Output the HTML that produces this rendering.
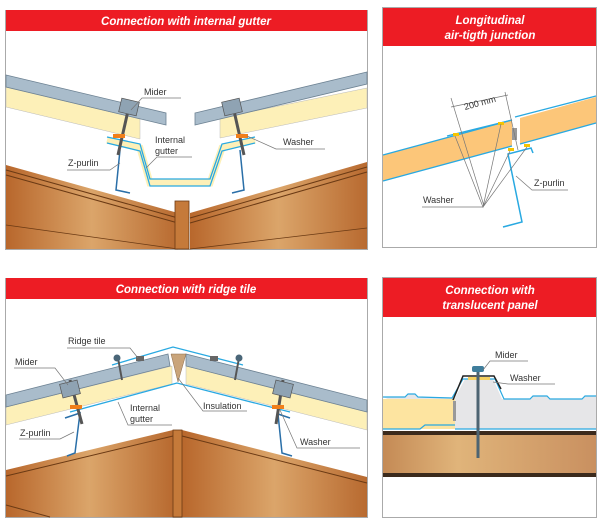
<!DOCTYPE html>
<html><head><meta charset="utf-8"><style>
html,body{margin:0;padding:0;background:#fff;}
svg{display:block;}
.h{font-family:"Liberation Sans",sans-serif;font-weight:bold;font-style:italic;fill:#fff;font-size:11.5px;}
.l{font-family:"Liberation Sans",sans-serif;font-size:9px;fill:#333;}
.ln{stroke:#777;stroke-width:0.7;fill:none;}
</style></head><body>
<svg width="600" height="524" viewBox="0 0 600 524" xmlns="http://www.w3.org/2000/svg">
<defs>
<linearGradient id="br" x1="0" x2="1" y1="0" y2="0">
<stop offset="0" stop-color="#b8672c"/><stop offset="0.5" stop-color="#dba56a"/><stop offset="1" stop-color="#b86a30"/>
</linearGradient>
<linearGradient id="br2" x1="0" x2="1"><stop offset="0" stop-color="#c48a55"/><stop offset="0.35" stop-color="#e0b47a"/><stop offset="1" stop-color="#c99060"/></linearGradient>
</defs>

<!-- Panel 1 -->
<rect x="5.5" y="10.5" width="362" height="239" fill="#fff" stroke="#aaa"/>
<rect x="6" y="10" width="361" height="21" fill="#ed1c24"/>
<text class="h" x="186" y="25" text-anchor="middle">Connection with internal gutter</text>
<!-- beams -->
<polygon points="6,165 178,213 178,249 6,249" fill="url(#br)"/>
<polygon points="190,213 367,162 367,249 190,249" fill="url(#br)"/>
<polyline points="6,170 178,218" stroke="#6b3a14" stroke-width="1" fill="none"/>
<polyline points="6,175 178,223" stroke="#6b3a14" stroke-width="1" fill="none"/>
<polyline points="190,218 367,167" stroke="#6b3a14" stroke-width="1" fill="none"/>
<polyline points="190,223 367,172" stroke="#6b3a14" stroke-width="1" fill="none"/>
<polyline points="6,225 178,249" stroke="#6b3a14" stroke-width="0.8" fill="none"/>
<polyline points="190,249 367,228" stroke="#6b3a14" stroke-width="0.8" fill="none"/>
<rect x="175" y="201" width="14" height="48" fill="#c57a3a" stroke="#6b3a14" stroke-width="0.8"/>
<!-- panels -->
<polygon points="6,87 140,119 140,139 6,107" fill="#fdf0b8" stroke="#bbb" stroke-width="0.5"/>
<polygon points="6,75 166,113 166,125 6,87" fill="#a9bccb" stroke="#6d8293" stroke-width="0.8"/>
<polygon points="220,118 367,88 367,108 220,138" fill="#fdf0b8" stroke="#bbb" stroke-width="0.5"/>
<polygon points="195,113 367,72 367,84 195,125" fill="#a9bccb" stroke="#6d8293" stroke-width="0.8"/>
<!-- gutter -->
<polyline points="107,140 140,148 150,183 210,183 222,148 255,140" stroke="#fdf0b8" stroke-width="7" fill="none"/>
<polyline points="107,137 140,144 150,179 210,179 222,144 255,137" stroke="#29a9e1" stroke-width="1.3" fill="none"/>
<polyline points="107,143 140,151 150,186 210,186 222,151 255,143" stroke="#29a9e1" stroke-width="1.3" fill="none"/>
<!-- purlins -->
<polyline points="120,150 116,190 130,193" stroke="#2a6fa8" stroke-width="1.5" fill="none"/>
<polyline points="240,150 244,190 232,193" stroke="#2a6fa8" stroke-width="1.5" fill="none"/>
<!-- screws -->
<line x1="130" y1="102" x2="118" y2="155" stroke="#555" stroke-width="3"/>
<rect x="120" y="100" width="18" height="14" fill="#8fa3b3" stroke="#555" stroke-width="0.7" transform="rotate(13 129 107)"/>
<rect x="113" y="134" width="12" height="4" fill="#f07f1a"/>
<line x1="232" y1="102" x2="244" y2="155" stroke="#555" stroke-width="3"/>
<rect x="223" y="100" width="18" height="14" fill="#8fa3b3" stroke="#555" stroke-width="0.7" transform="rotate(-13 232 107)"/>
<rect x="236" y="134" width="12" height="4" fill="#f07f1a"/>
<!-- labels -->
<text class="l" x="144" y="95">Mider</text><polyline class="ln" points="131,110 142,98 181,98"/>
<text class="l" x="155" y="143">Internal</text><text class="l" x="155" y="154">gutter</text>
<polyline class="ln" points="146,168 157,157 192,157"/>
<text class="l" x="283" y="145">Washer</text><polyline class="ln" points="247,136 276,149 325,149"/>
<text class="l" x="68" y="166">Z-purlin</text><polyline class="ln" points="67,170 110,170 120,163"/>

<!-- Panel 2 -->
<rect x="382.5" y="7.5" width="214" height="240" fill="#fff" stroke="#aaa"/>
<rect x="383" y="8" width="213" height="38" fill="#ed1c24"/>
<text class="h" x="490" y="24" text-anchor="middle">Longitudinal</text>
<text class="h" x="490" y="39" text-anchor="middle">air-tigth junction</text>
<polygon points="383,155 512,120 512,146 383,181" fill="#fcc679"/>
<polygon points="520,118 596,97 596,123 520,144" fill="#fcc679"/>
<line x1="383" y1="155" x2="512" y2="120" stroke="#29a9e1" stroke-width="1.3"/>
<line x1="383" y1="181" x2="512" y2="146" stroke="#29a9e1" stroke-width="1.3"/>
<line x1="515" y1="117" x2="596" y2="96" stroke="#29a9e1" stroke-width="1.3"/>
<line x1="520" y1="144" x2="596" y2="123" stroke="#29a9e1" stroke-width="1.3"/>
<line x1="447" y1="136" x2="512" y2="120" stroke="#29a9e1" stroke-width="1.3"/>
<rect x="512" y="128" width="5" height="12" fill="#999"/>
<rect x="453" y="133" width="6" height="3" fill="#f5c400"/>
<rect x="498" y="122" width="6" height="3" fill="#f5c400"/>
<rect x="508" y="148" width="6" height="3" fill="#f5c400"/>
<rect x="524" y="144" width="6" height="3" fill="#f5c400"/>
<polyline points="533,153 531,148 508,154 522,222 503,227" stroke="#29a9e1" stroke-width="1.5" fill="none"/>
<line x1="451" y1="98" x2="484" y2="206" class="ln"/>
<line x1="505" y1="92" x2="518" y2="150" class="ln"/>
<line x1="451" y1="107" x2="508" y2="95" class="ln"/>
<text class="l" x="465" y="110" transform="rotate(-15 465 110)">200 mm</text>
<text class="l" x="423" y="203">Washer</text>
<polyline class="ln" points="422,207 483,207"/>
<polyline class="ln" points="483,207 455,136 483,207 501,124 483,207 510,151 483,207 527,147"/>
<text class="l" x="534" y="186">Z-purlin</text><polyline class="ln" points="516,176 532,190 568,190"/>

<!-- Panel 3 -->
<rect x="5.5" y="278.5" width="362" height="239" fill="#fff" stroke="#aaa"/>
<rect x="6" y="278" width="361" height="21" fill="#ed1c24"/>
<text class="h" x="186" y="293" text-anchor="middle">Connection with ridge tile</text>
<polygon points="6,470 173,430 173,517 6,517" fill="url(#br)"/>
<polygon points="182,430 367,477 367,517 182,517" fill="url(#br)"/>
<polyline points="6,476 173,436" stroke="#6b3a14" fill="none"/>
<polyline points="182,436 367,483" stroke="#6b3a14" fill="none"/>
<polyline points="6,505 50,517" stroke="#6b3a14" fill="none"/>
<rect x="173" y="430" width="9" height="87" fill="#c57a3a" stroke="#6b3a14" stroke-width="0.8"/>
<polygon points="6,407 172,366 172,384 6,425" fill="#fdf0b8" stroke="#bbb" stroke-width="0.5"/>
<polygon points="6,395 168,354 170,366 6,407" fill="#a9bccb" stroke="#6d8293" stroke-width="0.8"/>
<polygon points="186,366 367,412 367,430 186,384" fill="#fdf0b8" stroke="#bbb" stroke-width="0.5"/>
<polygon points="186,354 367,400 367,412 186,366" fill="#a9bccb" stroke="#6d8293" stroke-width="0.8"/>
<polygon points="171,354 186,354 178,382" fill="#c9a47a" stroke="#8a6a4a" stroke-width="0.5"/>
<polyline points="112,365 173,347 243,365" stroke="#29a9e1" stroke-width="1.3" fill="none"/>
<polyline points="70,412 177,383 290,412" stroke="#29a9e1" stroke-width="1.3" fill="none"/>
<rect x="136" y="356" width="8" height="5" fill="#666"/><rect x="210" y="356" width="8" height="5" fill="#666"/>
<line x1="118" y1="358" x2="122" y2="380" stroke="#555" stroke-width="2"/>
<circle cx="117" cy="358" r="3.5" fill="#4a6678"/>
<line x1="239" y1="358" x2="235" y2="380" stroke="#555" stroke-width="2"/>
<circle cx="239" cy="358" r="3.5" fill="#4a6678"/>
<polyline points="65,418 80,413 75,453 67,456" stroke="#2a6fa8" stroke-width="1.5" fill="none"/>
<polyline points="290,418 278,414 282,453 292,456" stroke="#2a6fa8" stroke-width="1.5" fill="none"/>
<line x1="70" y1="380" x2="82" y2="424" stroke="#555" stroke-width="3"/>
<rect x="61" y="382" width="18" height="14" fill="#8fa3b3" stroke="#555" stroke-width="0.7" transform="rotate(-14 70 389)"/>
<rect x="70" y="405" width="12" height="4" fill="#f07f1a"/>
<line x1="283" y1="380" x2="276" y2="424" stroke="#555" stroke-width="3"/>
<rect x="274" y="382" width="18" height="14" fill="#8fa3b3" stroke="#555" stroke-width="0.7" transform="rotate(14 283 389)"/>
<rect x="272" y="405" width="12" height="4" fill="#f07f1a"/>
<text class="l" x="68" y="344">Ridge tile</text><polyline class="ln" points="67,348 130,348 138,358"/>
<text class="l" x="15" y="365">Mider</text><polyline class="ln" points="14,368 55,368 68,385"/>
<text class="l" x="203" y="409">Insulation</text><polyline class="ln" points="178,378 203,411 247,411"/>
<text class="l" x="130" y="411">Internal</text><text class="l" x="130" y="422">gutter</text>
<polyline class="ln" points="118,402 128,425 172,425"/>
<text class="l" x="20" y="436">Z-purlin</text><polyline class="ln" points="19,439 60,439 74,432"/>
<text class="l" x="300" y="445">Washer</text><polyline class="ln" points="280,410 297,448 360,448"/>

<!-- Panel 4 -->
<rect x="382.5" y="277.5" width="214" height="240" fill="#fff" stroke="#aaa"/>
<rect x="383" y="278" width="213" height="39" fill="#ed1c24"/>
<text class="h" x="490" y="294" text-anchor="middle">Connection with</text>
<text class="h" x="490" y="309" text-anchor="middle">translucent panel</text>
<polygon points="383,397 405,397 408,394 415,394 418,397 455,398 465,379 493,379 502,399 530,399 533,396 547,396 550,399 582,399 585,396 596,396 596,429 455,429 455,428" fill="#e6e6e8"/>
<rect x="383" y="399" width="72" height="30" fill="#fde4a0"/>
<polyline points="383,397 405,397 408,394 415,394 418,397 452,398 463,379 495,379 504,399 530,399 533,396 547,396 550,399 582,399 585,396 596,396" stroke="#29a9e1" stroke-width="1.2" fill="none"/>
<polyline points="383,429 420,429 425,425 455,425" stroke="#29a9e1" stroke-width="1.2" fill="none"/>
<polyline points="455,429 596,429" stroke="#29a9e1" stroke-width="1.2" fill="none"/>
<rect x="453" y="401" width="3" height="20" fill="#999"/>
<polyline points="453,400 463,376 494,376 501,389" stroke="#222" stroke-width="1.5" fill="none"/>
<rect x="468" y="377" width="22" height="3" fill="#f5d060"/>
<rect x="383" y="431" width="213" height="4" fill="#3b2a1c"/>
<rect x="383" y="435" width="213" height="38" fill="url(#br2)"/>
<rect x="383" y="473" width="213" height="4" fill="#3b2a1c"/>
<line x1="478" y1="370" x2="478" y2="458" stroke="#4d6472" stroke-width="3"/>
<rect x="472" y="366" width="12" height="6" rx="2" fill="#3f7e9c"/>
<text class="l" x="495" y="358">Mider</text><polyline class="ln" points="483,370 490,361 528,361"/>
<text class="l" x="510" y="381">Washer</text><polyline class="ln" points="493,382 508,384 555,384"/>
</svg>
</body></html>
